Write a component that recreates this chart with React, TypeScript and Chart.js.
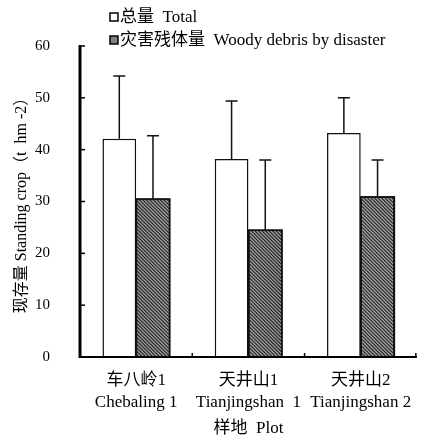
import React, { useEffect, useRef } from "react";
import { Chart, registerables } from "chart.js";
Chart.register(...registerables);

const categoriesCn = ["车八岭1", "天井山1", "天井山2"];
const categoriesEn = ["Chebaling 1", "Tianjingshan  1", "Tianjingshan 2"];
const totalValues = [42.1, 38.2, 43.2];
const totalErrors = [12.1, 11.2, 6.8];
const debrisValues = [30.5, 24.5, 30.9];
const debrisErrors = [12.2, 13.5, 7.1];
const yTicks = [0, 10, 20, 30, 40, 50, 60];
const legendLabels = ["总量  Total", "灾害残体量  Woody debris by disaster"];

const FONT = "'Liberation Serif', 'Noto Sans CJK SC', serif";

export default function App() {
  const ref = useRef<HTMLCanvasElement>(null);
  useEffect(() => {
    document.body.style.margin = "0";
    const canvas = ref.current!;
    const hatchBase = "#a0a0a0";
    const hatchLine = "#2a2a2a";
    const errs = [totalErrors, debrisErrors];

    const hatchPlugin = {
      id: "hatchLines",
      afterDatasetDraw(chart: any, args: any) {
        if (args.index !== 1) return;
        const ctx = chart.ctx;
        const meta = chart.getDatasetMeta(1);
        ctx.save();
        meta.data.forEach((bar: any) => {
          const l = bar.x - bar.width / 2;
          const r = bar.x + bar.width / 2;
          const t = bar.y;
          const b = bar.base;
          ctx.save();
          ctx.beginPath();
          ctx.rect(l, t, r - l, b - t);
          ctx.clip();
          ctx.strokeStyle = hatchLine;
          ctx.lineWidth = 1.2;
          ctx.beginPath();
          for (let k = t - (r - l); k < b; k += 3.5) {
            ctx.moveTo(l, k);
            ctx.lineTo(r, k + (r - l));
          }
          ctx.stroke();
          ctx.restore();
          ctx.strokeStyle = "#111";
          ctx.lineWidth = 1.5;
          ctx.strokeRect(l, t, r - l, b - t);
        });
        ctx.restore();
      },
    };

    const errorPlugin = {
      id: "errbars",
      afterDatasetsDraw(chart: any) {
        const ctx = chart.ctx;
        const y = chart.scales.y;
        ctx.save();
        ctx.strokeStyle = "#111";
        ctx.lineWidth = 1.5;
        chart.data.datasets.forEach((ds: any, di: number) => {
          const meta = chart.getDatasetMeta(di);
          meta.data.forEach((bar: any, i: number) => {
            const v = ds.data[i];
            const top = y.getPixelForValue(v + errs[di][i]);
            const x = bar.x;
            ctx.beginPath();
            ctx.moveTo(x, bar.y);
            ctx.lineTo(x, top);
            ctx.moveTo(x - 6, top);
            ctx.lineTo(x + 6, top);
            ctx.stroke();
          });
        });
        ctx.restore();
      },
    };

    const axesPlugin = {
      id: "axesDraw",
      afterDraw(chart: any) {
        const ctx = chart.ctx;
        const { left, right, top, bottom } = chart.chartArea;
        const y = chart.scales.y;
        const x = chart.scales.x;
        ctx.save();
        ctx.strokeStyle = "#000";
        ctx.lineWidth = 3;
        ctx.beginPath();
        ctx.moveTo(left, top - 1);
        ctx.lineTo(left, bottom + 1);
        ctx.stroke();
        ctx.lineWidth = 2;
        ctx.beginPath();
        ctx.moveTo(left - 1, bottom);
        ctx.lineTo(right, bottom);
        ctx.stroke();
        ctx.lineWidth = 1.5;
        yTicks.forEach((t) => {
          const py = y.getPixelForValue(t);
          ctx.beginPath();
          ctx.moveTo(left, py);
          ctx.lineTo(left + 5, py);
          ctx.stroke();
        });
        const step = x.getPixelForValue(1) - x.getPixelForValue(0);
        for (let i = 0; i < categoriesCn.length; i++) {
          const px = Math.min(x.getPixelForValue(i) + step / 2, right - 1);
          ctx.beginPath();
          ctx.moveTo(px, bottom);
          ctx.lineTo(px, bottom - 4);
          ctx.stroke();
        }
        ctx.font = `17px ${FONT}`;
        ctx.textBaseline = "middle";
        const lx = 110;
        const ly = [17, 40];
        legendLabels.forEach((lab, i) => {
          ctx.fillStyle = i === 0 ? "#ffffff" : "#808080";
          ctx.fillRect(lx, ly[i] - 4, 8, 8);
          ctx.strokeStyle = "#000";
          ctx.lineWidth = 1.5;
          ctx.strokeRect(lx, ly[i] - 4, 8, 8);
          ctx.fillStyle = "#000";
          ctx.fillText(lab, lx + 10, ly[i] + 1);
        });
        ctx.restore();
      },
    };

    const chart = new Chart(canvas, {
      type: "bar",
      data: {
        labels: categoriesCn.map((c, i) => [c, categoriesEn[i]]),
        datasets: [
          {
            label: legendLabels[0],
            data: totalValues,
            backgroundColor: "#ffffff",
            borderColor: "#111",
            borderWidth: 1.5,
            borderSkipped: "bottom",
          },
          {
            label: legendLabels[1],
            data: debrisValues,
            backgroundColor: hatchBase,
            borderColor: "#111",
            borderWidth: 1.5,
            borderSkipped: "bottom",
          },
        ],
      },
      options: {
        responsive: false,
        animation: false,
        devicePixelRatio: 1,
        layout: { padding: { left: 0, right: 5, top: 46, bottom: 4 } },
        plugins: {
          legend: { display: false },
          tooltip: { enabled: false },
        },
        datasets: { bar: { barPercentage: 1, categoryPercentage: 0.6 } },
        scales: {
          x: {
            afterFit(scale: any) {
              scale.height = 82;
            },
            grid: { display: false, drawTicks: false },
            border: { display: false },
            ticks: {
              color: "#000",
              font: { family: FONT, size: 17, lineHeight: 1.3 },
              padding: 12,
              maxRotation: 0,
              autoSkip: false,
            },
            title: {
              display: true,
              text: "样地  Plot",
              color: "#000",
              font: { family: FONT, size: 17 },
              padding: { top: 0, bottom: 0 },
            },
          },
          y: {
            min: 0,
            max: 60,
            afterBuildTicks(scale: any) {
              scale.ticks = yTicks.map((v) => ({ value: v }));
            },
            afterFit(scale: any) {
              scale.width = 80;
            },
            grid: { display: false, drawTicks: false },
            border: { display: false },
            ticks: {
              color: "#000",
              font: { family: FONT, size: 15 },
              padding: 30,
            },
            title: {
              display: true,
              text: "现存量 Standing crop（t  hm -2）",
              color: "#000",
              font: { family: FONT, size: 16 },
              padding: { top: 12, bottom: 0 },
            },
          },
        },
      },
      plugins: [hatchPlugin, errorPlugin, axesPlugin],
    });
    return () => chart.destroy();
  }, []);
  return (
    <div style={{ position: "absolute", left: 0, top: 0 }}>
      <canvas ref={ref} width={424} height={443} style={{ width: 424, height: 443, display: "block" }} />
    </div>
  );
}
